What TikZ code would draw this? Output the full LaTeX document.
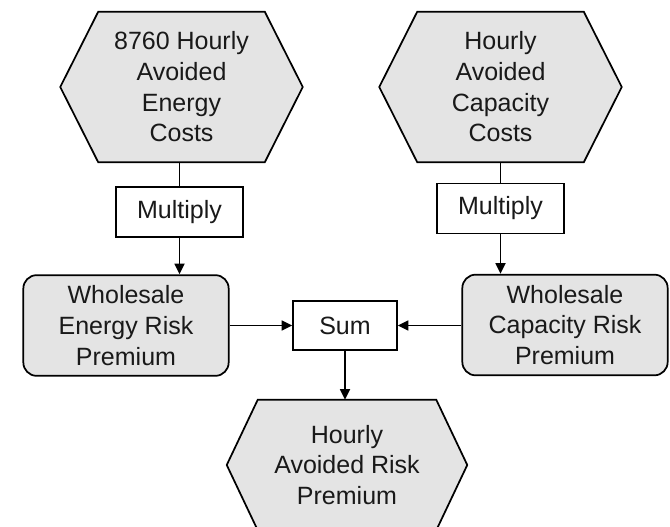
\documentclass[tikz,border=0pt]{standalone}
\usepackage{fontspec}
\setmainfont{Liberation Sans}
\usetikzlibrary{arrows.meta,backgrounds}
\definecolor{shade}{HTML}{E4E4E4}
\tikzset{
  base/.style={font=\fontsize{18.75}{23}\selectfont, align=center, inner sep=0pt, text=black!90},
  hexnode/.style={base, minimum width=181.5pt, minimum height=112.5pt},
  opbox/.style={base, draw, line width=1.2pt, fill=white, minimum width=95.25pt, minimum height=37.5pt},
  riskbox/.style={base, draw, line width=1.3pt, fill=shade, rounded corners=10pt,
                  minimum width=154pt, minimum height=75.5pt},
  hexfill/.style={draw, line width=1.3pt, fill=shade, line join=miter},
  link/.style={line width=1.3pt},
  flow/.style={link, -{Triangle[length=8pt,width=7.5pt]}}
}
\begin{document}
\begin{tikzpicture}[x=0.75pt, y=-0.75pt]
  \clip (0,0) rectangle (670,527);

  % inputs
  \node[hexnode] (energy)   at (181.5,87) {8760 Hourly\\Avoided\\Energy\\Costs};
  \node[hexnode] (capacity) at (500.5,87) {Hourly\\Avoided\\Capacity\\Costs};

  % operations
  \node[opbox] (multE) at (179.5,212)   {Multiply};
  \node[opbox] (multC) at (500.5,208.5) {Multiply};
  \node[opbox, minimum width=78pt, minimum height=36.75pt] (sum) at (345,325.5) {Sum};

  % intermediate results
  \node[riskbox] (riskE) at (126,325.5) {Wholesale\\Energy Risk\\Premium};
  \node[riskbox] (riskC) at (565,325)   {Wholesale\\Capacity Risk\\Premium};

  % output
  \node[hexnode, minimum width=180pt, minimum height=97.5pt] (total) at (347,465)
       {Hourly\\Avoided Risk\\Premium};

  % hexagon outlines behind the text
  \begin{scope}[on background layer]
    \foreach \h/\d in {energy/28.5pt, capacity/28.5pt, total/23.25pt}{
      \path[hexfill] (\h.west) -- ([xshift=\d]\h.north west) -- ([xshift=-\d]\h.north east)
        -- (\h.east) -- ([xshift=-\d]\h.south east) -- ([xshift=\d]\h.south west) -- cycle;
    }
  \end{scope}

  % connectors
  \draw[link] (multE.north |- energy.south) -- (multE.north);
  \draw[link] (multC.north |- capacity.south) -- (multC.north);
  \draw[flow] (multE.south) -- (multE.south |- riskE.north);
  \draw[flow] (multC.south) -- (multC.south |- riskC.north);
  \draw[flow] (riskE.east |- sum.west) -- (sum.west);
  \draw[flow] (riskC.west |- sum.east) -- (sum.east);
  \draw[flow] (sum.south) -- (sum.south |- total.north);
\end{tikzpicture}
\end{document}
